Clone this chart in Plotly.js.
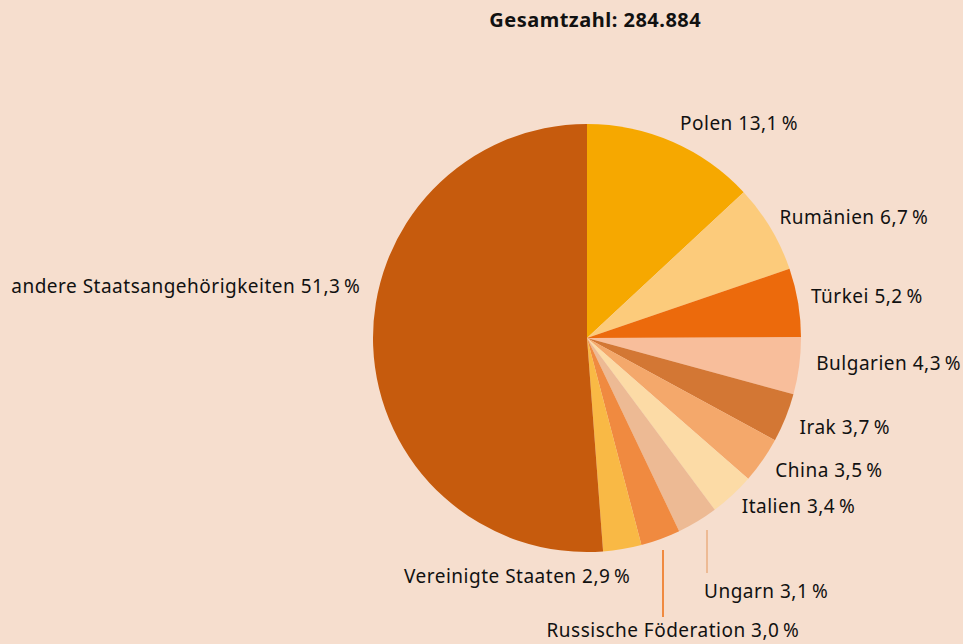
<!DOCTYPE html>
<html><head><meta charset="utf-8">
<script src="https://cdn.plot.ly/plotly-3.0.1.min.js"></script>
<style>html,body{margin:0;padding:0;background:#F6DECE;}#chart{width:963px;height:644px;}
#chart .annotation-text{letter-spacing:0.5px;}
</style>
</head><body><div id="chart"></div>
<script>
const countries = ["Polen","Rumänien","Türkei","Bulgarien","Irak","China","Italien","Ungarn","Russische Föderation","Vereinigte Staaten","andere Staatsangehörigkeiten"];
const shares = [13.1,6.7,5.2,4.3,3.7,3.5,3.4,3.1,3.0,2.9,51.3];
const shareLabels = ["13,1","6,7","5,2","4,3","3,7","3,5","3,4","3,1","3,0","2,9","51,3"];
const totalLabel = "284.884";

const colors = ["#F6A800","#FCCB7B","#EC6A0C","#F8BE9B","#D37734","#F4A86B","#FCDBA6","#EDBA94","#F08A40","#F9B945","#C65B0D"];
const W = 963, H = 644;
const px = x => x / W, py = y => 1 - y / H;
// label centre positions in pixels
const labelPos = [[739,123],[853.5,217],[867,296],[888,363],[844,427],[829,470],[798.5,506],[765.5,591],[673,630],[517,576],[185.5,286]];
const font = {family:"Noto Sans, Open Sans, sans-serif", size:19, color:"#111"};

const annotations = countries.map((c,i)=>({
  text: c + " " + shareLabels[i] + "\u2009%",
  x: px(labelPos[i][0]), y: py(labelPos[i][1]), xref:"paper", yref:"paper",
  xanchor:"center", yanchor:"middle", showarrow:false, font: font
}));
annotations.push({text:"<b>Gesamtzahl: " + totalLabel + "</b>", x: px(595.5), y: py(20), xref:"paper", yref:"paper",
  xanchor:"center", yanchor:"middle", showarrow:false, font:{family:"Noto Sans, Open Sans, sans-serif", size:20, color:"#111"}});

const shapes = [
  {type:"line", xref:"paper", yref:"paper", x0:px(707), x1:px(707), y0:py(530), y1:py(573), line:{color:colors[7], width:2}},
  {type:"line", xref:"paper", yref:"paper", x0:px(663), x1:px(663), y0:py(550), y1:py(617), line:{color:colors[8], width:2}}
];

const cx = 587, cy = 338, r = 214;
Plotly.newPlot("chart", [{
  type:"pie", labels: countries, values: shares, sort:false, direction:"clockwise", rotation:0,
  marker:{colors: colors, line:{width:0}}, textinfo:"none", hoverinfo:"none",
  domain:{x:[px(cx-r), px(cx+r)], y:[py(cy+r), py(cy-r)]}
}], {
  width: W, height: H, margin:{l:0,r:0,t:0,b:0}, showlegend:false,
  paper_bgcolor:"#F6DECE", plot_bgcolor:"#F6DECE",
  annotations: annotations, shapes: shapes
}, {displayModeBar:false, staticPlot:true});
</script></body></html>
